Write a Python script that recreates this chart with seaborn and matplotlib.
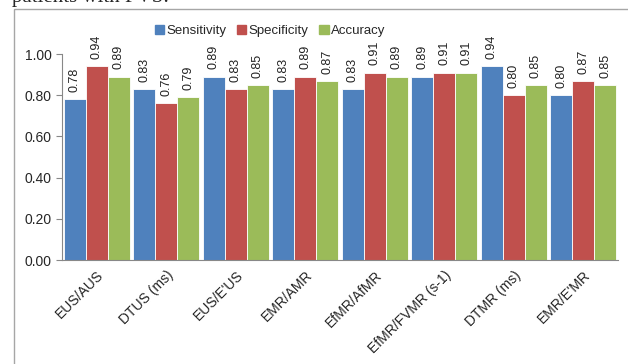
import pandas as pd
import numpy as np
import matplotlib
matplotlib.use("Agg")
import matplotlib.pyplot as plt
import matplotlib.patches as mpatches
import seaborn as sns

categorias = ["EUS/AUS", "DTUS (ms)", "EUS/E'US", "EMR/AMR", "EfMR/AfMR",
              "EfMR/FVMR (s-1)", "DTMR (ms)", "EMR/E'MR"]
sensibilidad = [0.78, 0.83, 0.89, 0.83, 0.83, 0.89, 0.94, 0.80]
especificidad = [0.94, 0.76, 0.83, 0.89, 0.91, 0.91, 0.80, 0.87]
exactitud = [0.89, 0.79, 0.85, 0.87, 0.89, 0.91, 0.85, 0.85]
series = ["Sensitivity", "Specificity", "Accuracy"]
colores = ["#4F81BD", "#C0504D", "#9BBB59"]

df = pd.DataFrame({
    "Categoria": categorias * 3,
    "Serie": [s for s in series for _ in categorias],
    "Valor": sensibilidad + especificidad + exactitud,
})

sns.set_style("white")
plt.rcParams["font.family"] = ["Liberation Sans", "DejaVu Sans"]

fig = plt.figure(figsize=(6.28, 3.64), dpi=100)
ax = fig.add_axes([0.0987, 0.2857, 0.8853, 0.5659])

sns.barplot(data=df, x="Categoria", y="Valor", hue="Serie", order=categorias,
            hue_order=series, palette=colores, saturation=1, width=0.95, ax=ax,
            edgecolor="white", linewidth=0.6, legend=False)

for cont in ax.containers:
    for bar in cont:
        h = bar.get_height()
        ax.text(bar.get_x() + bar.get_width() / 2, h + 0.035, f"{h:.2f}",
                rotation=90, ha="center", va="bottom", fontsize=9,
                color="#222222", clip_on=False)

ax.set_ylim(0, 1)
ax.set_xlim(-0.5, len(categorias) - 0.5)
ax.set_yticks(np.arange(0, 1.01, 0.2))
ax.set_yticklabels([f"{v:.2f}" for v in np.arange(0, 1.01, 0.2)], fontsize=10)
ax.set_xticks(range(len(categorias)))
ax.set_xticklabels(categorias, rotation=45, ha="right", rotation_mode="anchor",
                   fontsize=10)
ax.set_xticks(np.arange(-0.5, len(categorias), 1), minor=True)
ax.tick_params(axis="x", which="major", length=0, pad=6)
ax.tick_params(axis="x", which="minor", length=4, color="#888888", direction="out")
ax.tick_params(axis="y", length=4, color="#888888", direction="out", left=True)
ax.set_xlabel("")
ax.set_ylabel("")
for lado in ["top", "right"]:
    ax.spines[lado].set_visible(False)
for lado in ["left", "bottom"]:
    ax.spines[lado].set_color("#888888")
    ax.spines[lado].set_linewidth(0.8)

handles = [mpatches.Patch(color=c, label=s) for s, c in zip(series, colores)]
fig.legend(handles=handles, loc="center", bbox_to_anchor=(0.43, 0.915), ncol=3,
           frameon=False, fontsize=9.5, handlelength=0.7, handleheight=0.7,
           handletextpad=0.2, columnspacing=0.8)

# marco del grafico y texto cortado arriba
marco = mpatches.Rectangle((14 / 628, -0.1), 1.0, 1 - 9 / 364 + 0.1,
                           transform=fig.transFigure, fill=False,
                           edgecolor="#A6A6A6", linewidth=1.0)
fig.patches.append(marco)
fig.text(12 / 628, 1 - 2 / 364, "patients with PVS:", family="Liberation Serif",
         fontsize=15, va="baseline", ha="left")

fig.savefig("out.png", dpi=100)
